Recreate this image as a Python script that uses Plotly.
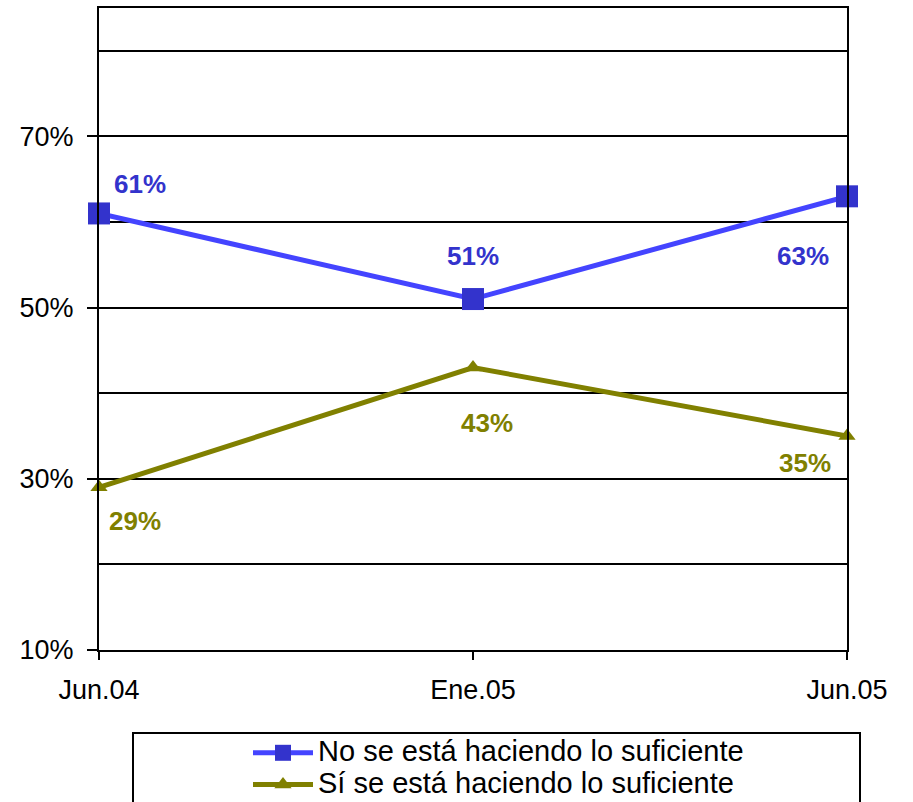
import plotly.graph_objects as go

categories = ["Jun.04", "Ene.05", "Jun.05"]
no_suficiente = [61, 51, 63]
si_suficiente = [29, 43, 35]
series_names = ["No se está haciendo lo suficiente", "Sí se está haciendo lo suficiente"]
ytick_vals = [10, 30, 50, 70]
ytick_text = ["10%", "30%", "50%", "70%"]
minor_grid = [20, 40, 60, 80]

x = list(range(len(categories)))

def big(name):
    return f'<span style="font-size:29px">{name}</span>'

fig = go.Figure()
fig.add_trace(go.Scatter(
    x=x, y=no_suficiente, name=big(series_names[0]), mode="lines+markers",
    line=dict(color="#4444FF", width=5),
    marker=dict(symbol="square", size=22, color="#3333CC"),
    cliponaxis=False,
))
fig.add_trace(go.Scatter(
    x=x, y=si_suficiente, name=big(series_names[1]), mode="lines+markers",
    line=dict(color="#808000", width=5),
    marker=dict(symbol="triangle-up", size=15, color="#808000"),
    cliponaxis=False,
))

# data labels
blue_shifts = [(41, 29), (0, 43), (-44, -60)]
olive_shifts = [(36, -34), (14, -55), (-42, -27)]
for i, v in enumerate(no_suficiente):
    fig.add_annotation(x=x[i], y=v, text=f"<b>{v}%</b>", showarrow=False,
                       xshift=blue_shifts[i][0], yshift=blue_shifts[i][1],
                       font=dict(family="Liberation Sans, Arial", size=26, color="#3333CC"))
for i, v in enumerate(si_suficiente):
    fig.add_annotation(x=x[i], y=v, text=f"<b>{v}%</b>", showarrow=False,
                       xshift=olive_shifts[i][0], yshift=olive_shifts[i][1],
                       font=dict(family="Liberation Sans, Arial", size=26, color="#808000"))

# legend frame
fig.add_shape(type="rect", xref="paper", yref="paper",
              x0=(133 - 99) / 748, x1=(860 - 99) / 748,
              y0=-0.30, y1=-(733 - 650) / 642,
              line=dict(color="black", width=2), fillcolor="rgba(0,0,0,0)")

fig.update_layout(
    width=913, height=802,
    margin=dict(l=99, r=66, t=8, b=152, autoexpand=False),
    paper_bgcolor="white", plot_bgcolor="white",
    font=dict(family="Liberation Sans, Arial", size=26, color="black"),
    showlegend=True,
    legend=dict(
        x=(248 - 99) / 748, xanchor="left",
        y=-(732 - 650) / 642, yanchor="top",
        bgcolor="rgba(0,0,0,0)", borderwidth=0,
        font=dict(family="Liberation Sans, Arial", size=22, color="black"),
        tracegroupgap=0, itemwidth=60,
    ),
    xaxis=dict(
        range=[0, len(categories) - 1],
        tickmode="array", tickvals=x, ticktext=categories,
        showgrid=False, zeroline=False, automargin=False,
        showline=True, mirror=True, linecolor="black", linewidth=2,
        ticks="outside", ticklen=8, tickwidth=2, tickcolor="black",
        ticklabelstandoff=7,
        tickfont=dict(size=27),
    ),
    yaxis=dict(
        range=[10, 85],
        tickmode="array", tickvals=ytick_vals, ticktext=ytick_text,
        showgrid=True, gridcolor="black", gridwidth=1.5,
        zeroline=False, automargin=False,
        showline=True, mirror=True, linecolor="black", linewidth=2,
        ticks="outside", ticklen=10, tickwidth=2, tickcolor="black",
        ticklabelstandoff=8,
        tickfont=dict(size=27),
        minor=dict(tickmode="array", tickvals=minor_grid, showgrid=True,
                   gridcolor="black", gridwidth=1.5, ticks=""),
    ),
)

fig.write_html("out.html", config={"displayModeBar": False},
               post_script="document.body.style.margin='0';")
